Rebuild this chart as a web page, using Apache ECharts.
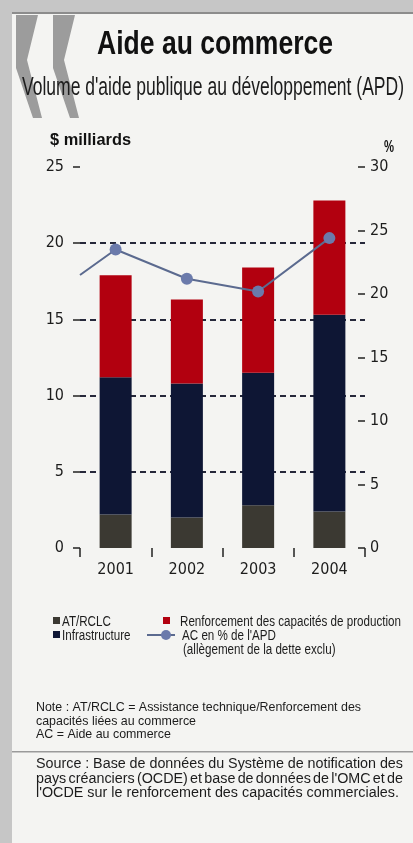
<!DOCTYPE html>
<html>
<head>
<meta charset="utf-8">
<script src="https://cdn.jsdelivr.net/npm/echarts@6/dist/echarts.min.js"></script>
<style>
  html, body { margin: 0; padding: 0; background: #c6c6c6; }
  #chart { width: 413px; height: 843px; }
</style>
</head>
<body>
<div id="chart"></div>
<script>
// Aide au commerce, 2001-2004 (USD billions, stacked) and AC as % of ODA
const years = ['2001', '2002', '2003', '2004'];
const atrclc = [2.2, 2.0, 2.8, 2.4];            // AT/RCLC
const infrastructure = [9.0, 8.8, 8.7, 12.9];   // Infrastructure
const renforcement = [6.7, 5.5, 6.9, 7.5];      // Renforcement des capacités de production
const acPct = [23.5, 21.2, 20.2, 24.4];         // AC en % de l'APD
const acPctAtLeftEdge = 21.5;                   // where the % line enters the plot

const leftAxis = { min: 0, max: 25, interval: 5 };
const rightAxis = { min: 0, max: 30, interval: 5 };

const COLORS = {
  atrclc: '#3b3932',
  infra: '#0e1634',
  renf: '#b2000f',
  line: '#5b6a8f',
  dot: '#6b7aab',
  plot: '#c7d7e1',
  grid: '#26283a',
  text: '#1c1c1c'
};

const FONT = '"Liberation Sans", Arial, sans-serif';
const NARROW = '"Liberation Sans Narrow", "DejaVu Sans Condensed", "Liberation Sans", sans-serif';

const ctx = document.createElement('canvas').getContext('2d');
function measure(str, size, weight) {
  ctx.font = (weight || 'normal') + ' ' + size + 'px ' + FONT;
  return ctx.measureText(str).width;
}
function textEl(str, left, baseline, size, scale, opts) {
  opts = opts || {};
  return {
    type: 'text', x: left, y: baseline - 0.35 * size, scaleX: scale, z: 20,
    style: {
      text: str, x: 0, y: 0, fontSize: size, fontFamily: FONT,
      fontWeight: opts.weight || 'normal', fill: opts.color || COLORS.text,
      align: 'left', verticalAlign: 'middle'
    }
  };
}
// condensed text squeezed to a given span
function fitText(str, left, right, baseline, size, opts) {
  const s = (right - left) / measure(str, size, opts && opts.weight);
  return textEl(str, left, baseline, size, s, opts);
}
// justified line: words spread across [left, right]
function justified(str, left, right, baseline, size, scale) {
  const words = str.split(' ');
  const widths = words.map(w => measure(w, size) * scale);
  const total = widths.reduce((a, b) => a + b, 0);
  const gap = (right - left - total) / (words.length - 1);
  const out = [];
  let x = left;
  words.forEach((w, i) => { out.push(textEl(w, x, baseline, size, scale)); x += widths[i] + gap; });
  return out;
}

const graphics = [];
// page frame
graphics.push({ type: 'rect', shape: { x: 12, y: 12, width: 401, height: 831 }, style: { fill: '#f4f4f2' }, z: 0 });
graphics.push({ type: 'rect', shape: { x: 12, y: 12, width: 401, height: 2 }, style: { fill: '#8c8c8c' }, z: 1 });
// guillemet ornament
[0, 37].forEach(dx => {
  graphics.push({
    type: 'polygon', z: 2,
    shape: { points: [[16 + dx, 15], [38 + dx, 15], [27 + dx, 60], [42 + dx, 118], [33 + dx, 118], [16 + dx, 68]] },
    style: { fill: '#9c9c9c' }
  });
});
// headings
graphics.push(fitText('Aide au commerce', 97, 333, 57, 34, { weight: 'bold', color: '#111' }));
graphics.push(fitText("Volume d'aide publique au développement (APD)", 22, 404, 97, 25));
graphics.push(fitText('$ milliards', 50, 131, 146, 16, { weight: 'bold', color: '#111' }));
graphics.push(fitText('%', 384, 394, 153, 16, { weight: 'bold', color: '#111' }));

// legend
const legSize = 15.5;
const legScale = (401 - 180) / measure('Renforcement des capacités de production', legSize);
graphics.push({ type: 'rect', shape: { x: 53, y: 617, width: 7, height: 7 }, style: { fill: COLORS.atrclc }, z: 20 });
graphics.push(textEl('AT/RCLC', 62, 627, legSize, legScale));
graphics.push({ type: 'rect', shape: { x: 163, y: 617, width: 7, height: 7 }, style: { fill: COLORS.renf }, z: 20 });
graphics.push(textEl('Renforcement des capacités de production', 180, 627, legSize, legScale));
graphics.push({ type: 'rect', shape: { x: 53, y: 631, width: 7, height: 7 }, style: { fill: COLORS.infra }, z: 20 });
graphics.push(textEl('Infrastructure', 62, 641, legSize, legScale));
graphics.push({ type: 'line', shape: { x1: 147, y1: 635, x2: 175, y2: 635 }, style: { stroke: COLORS.line, lineWidth: 2 }, z: 20 });
graphics.push({ type: 'circle', shape: { cx: 166, cy: 635, r: 5 }, style: { fill: COLORS.dot }, z: 21 });
graphics.push(textEl("AC en % de l'APD", 182, 641, legSize, legScale));
graphics.push(textEl('(allègement de la dette exclu)', 183, 655, legSize, legScale));

// note
const noteSize = 13;
const note1 = 'Note : AT/RCLC = Assistance technique/Renforcement des';
const noteScale = (361 - 36) / measure(note1, noteSize);
graphics.push(textEl(note1, 36, 712, noteSize, noteScale));
graphics.push(textEl('capacités liées au commerce', 36, 726, noteSize, noteScale));
graphics.push(textEl('AC = Aide au commerce', 36, 739, noteSize, noteScale));

// separator and source
graphics.push({ type: 'rect', shape: { x: 12, y: 751, width: 401, height: 1.5 }, style: { fill: '#9a9a9a' }, z: 2 });
const srcSize = 15.5;
const src3 = "l'OCDE sur le renforcement des capacités commerciales.";
const srcScale = (399 - 36) / measure(src3, srcSize);
justified('Source : Base de données du Système de notification des', 36, 403, 769, srcSize, srcScale).forEach(e => graphics.push(e));
justified("pays créanciers (OCDE) et base de données de l'OMC et de", 36, 403, 784, srcSize, srcScale).forEach(e => graphics.push(e));
graphics.push(textEl(src3, 36, 798, srcSize, srcScale));

const axisLabel = { fontFamily: NARROW, fontSize: 16, color: COLORS.text };
const barCommon = { type: 'bar', stack: 'aid', barWidth: 32, xAxisIndex: 0, yAxisIndex: 0 };

const chart = echarts.init(document.getElementById('chart'), null, { renderer: 'canvas' });
chart.setOption({
  animation: false,
  backgroundColor: '#c6c6c6',
  grid: { left: 80, right: 48, top: 167, bottom: 295, show: true, backgroundColor: COLORS.plot, borderWidth: 0, containLabel: false },
  xAxis: [
    {
      type: 'category', data: years, boundaryGap: true,
      axisLine: { show: false },
      axisTick: { show: true, interval: 0, length: 9, lineStyle: { color: '#222', width: 1.5 } },
      axisLabel: Object.assign({ margin: 14 }, axisLabel),
      splitLine: { show: false }
    },
    { type: 'value', min: 0, max: years.length, show: false }
  ],
  yAxis: [
    {
      type: 'value', position: 'left', min: leftAxis.min, max: leftAxis.max, interval: leftAxis.interval,
      axisLine: { show: false },
      axisTick: { show: true, length: 7, lineStyle: { color: '#222', width: 1.5 } },
      axisLabel: Object.assign({ margin: 16 }, axisLabel),
      splitLine: { show: true, lineStyle: { type: [6, 4], width: 2, color: ['transparent', COLORS.grid, COLORS.grid, COLORS.grid, COLORS.grid, 'transparent'] } }
    },
    {
      type: 'value', position: 'right', min: rightAxis.min, max: rightAxis.max, interval: rightAxis.interval,
      axisLine: { show: false },
      axisTick: { show: true, inside: true, length: 7, lineStyle: { color: '#222', width: 1.5 } },
      axisLabel: Object.assign({ margin: 5 }, axisLabel),
      splitLine: { show: false }
    }
  ],
  series: [
    Object.assign({ name: 'AT/RCLC', data: atrclc, itemStyle: { color: COLORS.atrclc } }, barCommon),
    Object.assign({ name: 'Infrastructure', data: infrastructure, itemStyle: { color: COLORS.infra } }, barCommon),
    Object.assign({ name: 'Renforcement des capacités de production', data: renforcement, itemStyle: { color: COLORS.renf } }, barCommon),
    {
      name: "AC en % de l'APD", type: 'line', xAxisIndex: 1, yAxisIndex: 1, z: 5,
      data: [{ value: [0, acPctAtLeftEdge], symbol: 'none' }].concat(acPct.map((v, i) => [i + 0.5, v])),
      symbol: 'circle', symbolSize: 12,
      lineStyle: { color: COLORS.line, width: 2 },
      itemStyle: { color: COLORS.dot }
    }
  ],
  graphic: graphics
});
</script>
</body>
</html>
